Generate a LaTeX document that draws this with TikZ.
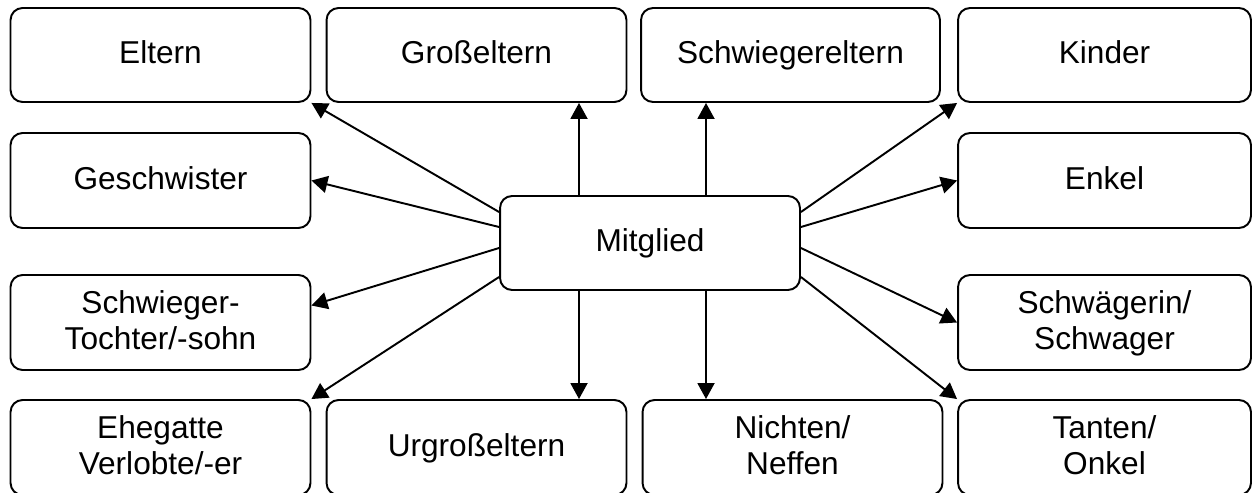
\documentclass[tikz,border=0pt]{standalone}
\usepackage{fontspec}
\setmainfont{Liberation Sans}
\usetikzlibrary{arrows.meta}

\begin{document}
\begin{tikzpicture}[x=0.02cm, y=-0.02cm,
    box/.style={draw, rounded corners=0.24cm, line width=1.1pt, minimum width=6cm,
      minimum height=1.88cm, inner sep=0pt, align=center, text depth=0.1cm,
      font=\fontsize{18}{20.5}\selectfont},
    pfeil/.style={line width=1.1pt, -{Triangle[length=0.32cm, width=0.34cm]}}]
    \useasboundingbox (0,0) rectangle (1257,493);

    % Kasten in der Mitte
    \node[box] (M) at (650, 243) {Mitglied};

    % obere Reihe
    \node[box] (El) at (160.5, 55) {Eltern};
    \node[box] (Gr) at (476.5, 55) {Großeltern};
    \node[box, minimum width=5.98cm] (Sw) at (790.5, 55) {Schwiegereltern};
    \node[box, minimum width=5.86cm] (Ki) at (1104.5, 55) {Kinder};

    % Seiten
    \node[box, minimum height=1.9cm] (Ge) at (160.5, 180.5) {Geschwister};
    \node[box, minimum width=5.86cm, minimum height=1.9cm] (En) at (1104.5, 180.5) {Enkel};
    \node[box, minimum height=1.9cm] (ST) at (160.5, 322.5) {Schwieger-\\Tochter/-sohn};
    \node[box, minimum width=5.86cm, minimum height=1.9cm] (SS) at (1104.5, 322.5) {Schwägerin/\\Schwager};

    % untere Reihe
    \node[box, minimum height=1.9cm] (Eh) at (160.5, 447.5) {Ehegatte\\Verlobte/-er};
    \node[box, minimum height=1.9cm] (Ur) at (476.5, 447.5) {Urgroßeltern};
    \node[box, minimum height=1.9cm] (Ni) at (792.5, 447.5) {Nichten/\\Neffen};
    \node[box, minimum width=5.86cm, minimum height=1.9cm] (Ta) at (1104.5, 447.5) {Tanten/\\Onkel};

    % senkrechte Pfeile
    \coordinate (xl) at (579, 0);
    \coordinate (xr) at (706, 0);
    \draw[pfeil] (M.north -| xl) -- (Gr.south -| xl);
    \draw[pfeil] (M.north -| xr) -- (Sw.south -| xr);
    \draw[pfeil] (M.south -| xl) -- (Ur.north -| xl);
    \draw[pfeil] (M.south -| xr) -- (Ni.north -| xr);

    % schraege Pfeile links
    \draw[pfeil] ([yshift=0.62cm]M.west) -- (El.south east);
    \draw[pfeil] ([yshift=0.32cm]M.west) -- (Ge.east);
    \draw[pfeil] ([yshift=-0.1cm]M.west) -- ([yshift=0.34cm]ST.east);
    \draw[pfeil] ([yshift=-0.68cm]M.west) -- (Eh.north east);

    % schraege Pfeile rechts
    \draw[pfeil] ([yshift=0.62cm]M.east) -- (Ki.south west);
    \draw[pfeil] ([yshift=0.32cm]M.east) -- (En.west);
    \draw[pfeil] ([yshift=-0.1cm]M.east) -- (SS.west);
    \draw[pfeil] ([yshift=-0.68cm]M.east) -- (Ta.north west);
\end{tikzpicture}
\end{document}
